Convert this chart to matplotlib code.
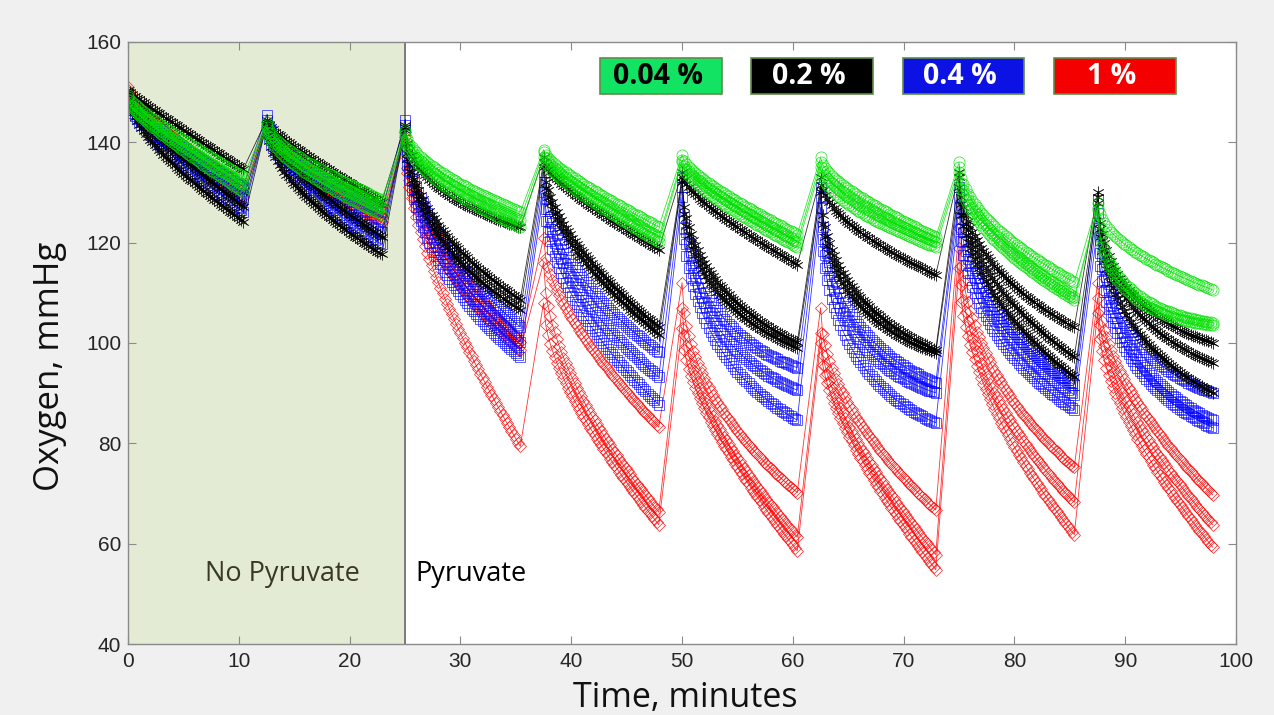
import numpy as np
import matplotlib
matplotlib.use("Agg")
import matplotlib.pyplot as plt
from matplotlib.patches import Rectangle

# ---------------- data ----------------
# cycle timing (minutes)
cycle_starts = [0, 12.5, 25, 37.5, 50, 62.5, 75, 87.5]
decay_length = 10.5
sample_step = 0.2
reading_times = [0.0, 2.0, 10.5]   # minutes after each peak where values were read

# Oxygen readings (mmHg) : one row per replicate trace, one value per cycle
green_peak = [[149.5, 144, 142.5, 138.5, 137.5, 137, 136, 128],
              [149, 143.5, 142, 138, 136.5, 136, 135, 127],
              [148.5, 143, 141.5, 137, 136, 135, 134, 126.5]]
green_2min = [[145, 138.5, 136, 134, 132.5, 131.5, 126, 120.5],
              [144, 137.5, 135, 133, 131.5, 130, 124.5, 113],
              [143.5, 136.5, 134, 132, 130.5, 128.5, 123.5, 112]]
green_end = [[133, 128.5, 126, 123, 121.5, 121, 112, 110.5],
             [131.5, 127, 124.5, 121, 120, 120, 109, 104],
             [130, 125.5, 123, 120, 119, 119, 108.5, 103.5]]

black_peak = [[150.5, 144.5, 143.5, 137, 134, 133, 134, 130],
              [150, 144, 143, 136, 133, 131.5, 133, 129],
              [149.5, 143.5, 142.5, 135, 132, 130, 131, 128]]
black_2min = [[147, 140, 133, 131, 128, 125, 119, 113],
              [143, 136, 127, 123, 116, 114, 116.5, 111],
              [140.5, 133, 125, 121.5, 114, 112, 114, 108]]
black_end = [[134.5, 128, 123, 118.5, 115.5, 113.5, 103, 100],
             [127, 121, 108.5, 103, 100, 98.6, 97, 96],
             [124, 117.5, 106.5, 101.5, 99, 98, 93, 90]]

blue_peak = [[149.5, 145.5, 144.5, 134, 133, 131, 131, 128.5],
             [149, 144.5, 143.5, 132, 131, 129, 129, 126],
             [148.5, 143.5, 142.5, 130, 129, 127, 127, 123]]
blue_2min = [[144, 138, 126, 118, 111, 109, 112, 106],
             [143, 136, 123.5, 115, 108, 106, 110, 103],
             [141.5, 134.5, 121, 112, 105, 102.5, 107, 101]]
blue_end = [[131, 126, 103, 98, 95, 92, 91.5, 90],
            [128.5, 122, 100, 93, 90.5, 90, 89.5, 84.5],
            [126, 119.5, 97, 87.5, 84.5, 84, 86.5, 83]]

red_peak = [[151, 144, 142, 121, 112, 107, 123, 112],
            [150.5, 143.5, 141, 116, 107, 102, 119, 109],
            [150, 143, 140, 108, 103, 100, 115, 106]]
red_2min = [[145, 138, 125, 107, 93, 90, 100, 94.5],
            [144, 137, 122, 96, 89, 86, 96, 91],
            [143, 136.5, 118, 92, 87, 84, 93, 88]]
red_end = [[131, 126.5, 100, 83, 70, 66.5, 75, 69.5],
           [130, 125, 98.5, 66, 61, 57.5, 68, 63.5],
           [129, 124, 79, 63.5, 58.3, 54.5, 61.5, 59]]

legend_labels = ["0.04 %", "0.2 %", "0.4 %", "1 %"]
legend_fill = ["#12e363", "#000000", "#0c12e4", "#f40000"]
legend_text_color = ["#000000", "#ffffff", "#ffffff", "#ffffff"]
legend_x = [42.6, 56.2, 69.9, 83.6]

xticks = [0, 10, 20, 30, 40, 50, 60, 70, 80, 90, 100]
yticks = [40, 60, 80, 100, 120, 140, 160]


def build_trace(peaks, mids, ends):
    """Smooth each decay segment through the three readings (in sqrt-time)."""
    ts, vs = [], []
    tau = np.arange(0, decay_length + 1e-9, sample_step)
    s = np.sqrt(tau)
    s_knots = np.sqrt(np.array(reading_times))
    for t0, p, m, e in zip(cycle_starts, peaks, mids, ends):
        coef = np.polyfit(s_knots, [p, m, e], 2)
        ts.append(t0 + tau)
        vs.append(np.polyval(coef, s))
    return np.concatenate(ts), np.concatenate(vs)


groups = [
    ("#ff0000", "D", 6.3, red_peak, red_2min, red_end),
    ("#0000ff", "s", 7.0, blue_peak, blue_2min, blue_end),
    ("#000000", (6, 2, 0), 8.5, black_peak, black_2min, black_end),
    ("#00e000", "o", 8.0, green_peak, green_2min, green_end),
]

# ---------------- figure ----------------
fig = plt.figure(figsize=(12.74, 7.15), dpi=100, facecolor="#f0f0f0")
ax = fig.add_axes([0.1005, 0.0993, 0.8697, 0.842])
ax.set_facecolor("white")

ax.axvspan(0, 25, color="#e4ebd5", zorder=0, lw=0)
ax.axvline(25, color="#7a7a7a", lw=1.4, zorder=1)

for color, marker, ms, pk, md, en in groups:
    for i in range(len(pk)):
        t, v = build_trace(pk[i], md[i], en[i])
        ax.plot(t, v, color=color, lw=0.6, marker=marker, ms=ms,
                mfc="none", mec=color, mew=0.55, alpha=0.8, zorder=2)

ax.set_xlim(0, 100)
ax.set_ylim(40, 160)
ax.set_xticks(xticks)
ax.set_yticks(yticks)
ax.tick_params(direction="in", length=6, width=0.8, color="#8a8a8a",
               top=True, right=True, labelsize=15, labelcolor="#262626")
ax.tick_params(axis="x", pad=6)
ax.tick_params(axis="y", pad=5)
for lab in ax.get_xticklabels() + ax.get_yticklabels():
    lab.set_family("Liberation Sans")
for sp in ax.spines.values():
    sp.set_color("#8a8a8a")
    sp.set_linewidth(1.0)
    sp.set_zorder(5)

ax.set_ylabel("Oxygen, mmHg", fontsize=25, family="Open Sans", color="#111111")
ax.yaxis.set_label_coords(-0.055, 0.462)
ax.set_xlabel("Time, minutes", fontsize=24.5, family="Open Sans", color="#111111")
ax.xaxis.set_label_coords(0.503, -0.061)

ax.text(13.9, 54, "No Pyruvate", fontsize=19.5, family="Open Sans",
        color="#3a3a22", ha="center", va="center", zorder=6)
ax.text(25.9, 54, "Pyruvate", fontsize=19.5, family="Open Sans",
        color="#000000", ha="left", va="center", zorder=6)

for x0, lab, fc, tc in zip(legend_x, legend_labels, legend_fill, legend_text_color):
    ax.add_patch(Rectangle((x0, 149.6), 11.0, 7.2, facecolor=fc,
                           edgecolor="#5f8c4a", lw=1.2, zorder=7))
    ax.text(x0 + 5.2, 153.1, lab, fontsize=20.5, fontweight="bold",
            family="Open Sans", color=tc, ha="center", va="center", zorder=8)

fig.savefig("out.png", dpi=100, facecolor=fig.get_facecolor())
